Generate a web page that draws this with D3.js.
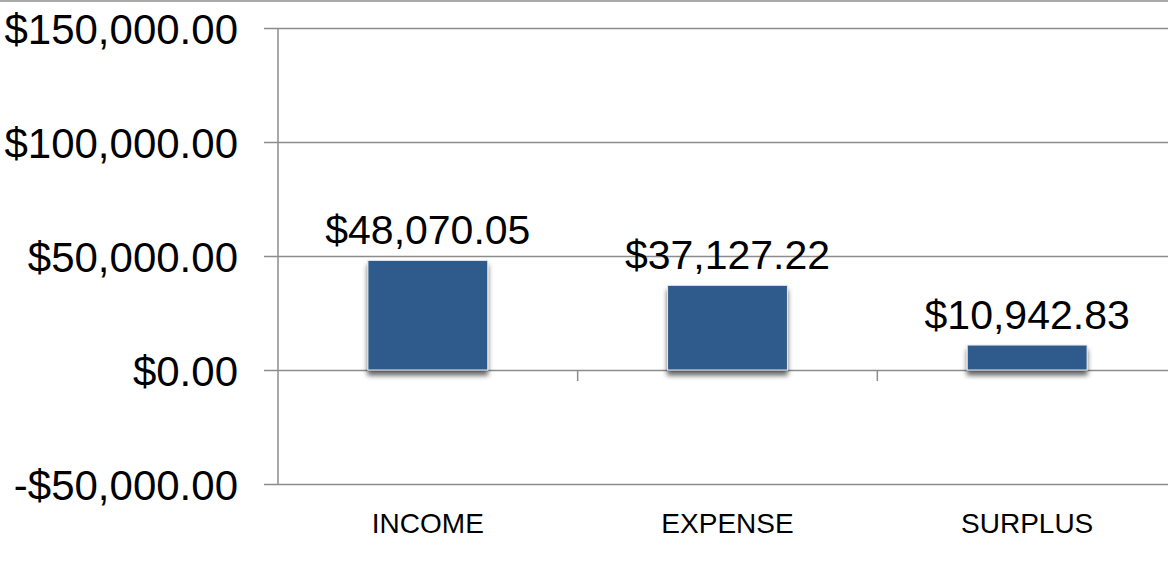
<!DOCTYPE html>
<html>
<head>
<meta charset="utf-8">
<script src="https://cdn.jsdelivr.net/npm/d3@7"></script>
<style>
  body { margin: 0; background: #fff; }
  svg { display: block; font-family: "Liberation Sans", Arial, sans-serif; }
</style>
</head>
<body>
<div id="chart"></div>
<script>
// Bar chart of income / expense / surplus
let categories = ["INCOME", "EXPENSE", "SURPLUS"];
let values = [48070.05, 37127.22, 10942.83];
let yTicks = [-50000, 0, 50000, 100000, 150000];

let W = 1168, H = 579;
let plot = {left: 278, right: 1177, top: 28, bottom: 484};

let svg = d3.select("#chart")
    .append("svg")
    .attr("width", W)
    .attr("height", H);

let fmt = function(v) {
    let s = "$" + d3.format(",.2f")(Math.abs(v));
    return v < 0 ? "-" + s : s;
};

let x = d3.scaleBand()
    .domain(categories)
    .range([plot.left, plot.right])
    .paddingInner(0.6)
    .paddingOuter(0.3);

let y = d3.scaleLinear()
    .domain([-50000, 150000])
    .range([plot.bottom, plot.top]);

// shadow under the bars
let defs = svg.append("defs");
let f = defs.append("filter")
    .attr("id", "shadow")
    .attr("x", "-20%").attr("y", "-20%")
    .attr("width", "140%").attr("height", "160%");
f.append("feDropShadow")
    .attr("dx", 0).attr("dy", 5)
    .attr("stdDeviation", 2.5)
    .attr("flood-color", "#000")
    .attr("flood-opacity", 0.6);

// top frame line
svg.append("line")
    .attr("x1", 0).attr("x2", W)
    .attr("y1", 1).attr("y2", 1)
    .attr("stroke", "#8c8c8c")
    .attr("stroke-width", 1.5);

// gridlines + y labels
let yAxis = d3.axisLeft(y)
    .tickValues(yTicks)
    .tickSize(-(plot.right - plot.left))
    .tickSizeOuter(0)
    .tickPadding(40)
    .tickFormat(fmt);

let gy = svg.append("g")
    .attr("transform", "translate(" + plot.left + ",0)")
    .call(yAxis);
gy.select(".domain").remove();
gy.selectAll(".tick line")
    .attr("x1", -14)
    .attr("stroke", "#8c8c8c")
    .attr("stroke-width", 1.5);
gy.selectAll(".tick text")
    .attr("fill", "#000")
    .style("font-size", "42px")
    .attr("dy", "0.36em");

// y axis line
svg.append("line")
    .attr("x1", plot.left).attr("x2", plot.left)
    .attr("y1", y(150000)).attr("y2", y(-50000))
    .attr("stroke", "#8c8c8c")
    .attr("stroke-width", 1.5);

// category separator ticks under the zero line
let step = x.step();
let gap = (step - x.bandwidth()) / 2;
svg.selectAll(".sep")
    .data(categories.slice(1))
    .enter()
    .append("line")
    .attr("x1", function(d) { return x(d) - gap; })
    .attr("x2", function(d) { return x(d) - gap; })
    .attr("y1", y(0))
    .attr("y2", y(0) + 11)
    .attr("stroke", "#8c8c8c")
    .attr("stroke-width", 1.5);

// bars
svg.selectAll(".bar")
    .data(values)
    .enter()
    .append("rect")
    .attr("x", function(d, i) { return x(categories[i]); })
    .attr("y", function(d) { return y(d); })
    .attr("width", x.bandwidth())
    .attr("height", function(d) { return y(0) - y(d); })
    .attr("fill", "#2e5a8c")
    .attr("stroke", "#e6e9ee")
    .attr("stroke-width", 1)
    .attr("filter", "url(#shadow)");

// value labels
svg.selectAll(".val")
    .data(values)
    .enter()
    .append("text")
    .attr("x", function(d, i) { return x(categories[i]) + x.bandwidth() / 2; })
    .attr("y", function(d) { return y(d) - 16; })
    .attr("text-anchor", "middle")
    .style("font-size", "41px")
    .attr("fill", "#000")
    .text(fmt);

// category labels
svg.selectAll(".cat")
    .data(categories)
    .enter()
    .append("text")
    .attr("x", function(d) { return x(d) + x.bandwidth() / 2; })
    .attr("y", 533)
    .attr("text-anchor", "middle")
    .style("font-size", "28px")
    .attr("fill", "#000")
    .text(function(d) { return d; });
</script>
</body>
</html>
